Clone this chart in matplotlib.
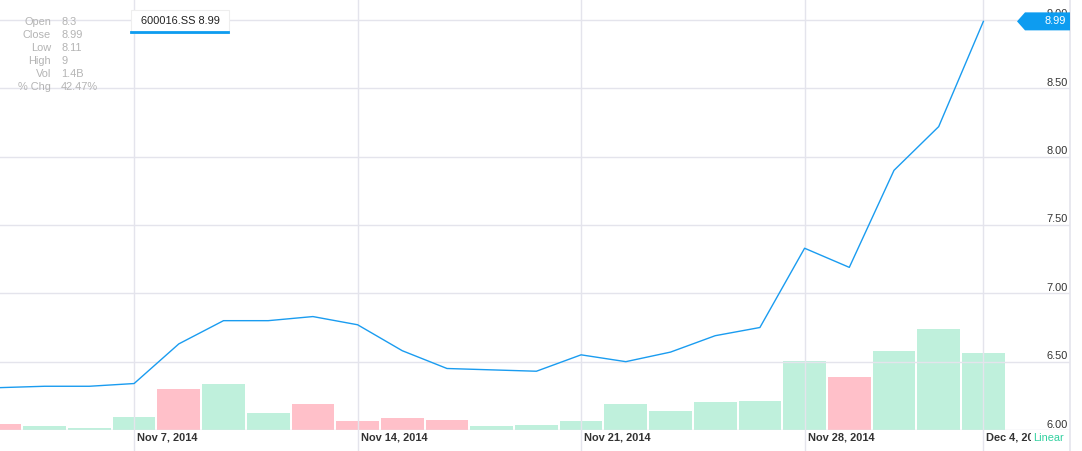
import matplotlib
matplotlib.use("Agg")
import matplotlib.pyplot as plt
from matplotlib.patches import Polygon, Rectangle
from matplotlib.lines import Line2D
import matplotlib.transforms as mtrans

plt.rcParams['font.family'] = ['Liberation Sans', 'DejaVu Sans']

# ---- data ----
dates = ["Nov 4", "Nov 5", "Nov 6", "Nov 7", "Nov 10", "Nov 11", "Nov 12", "Nov 13",
         "Nov 14", "Nov 17", "Nov 18", "Nov 19", "Nov 20", "Nov 21", "Nov 24", "Nov 25",
         "Nov 26", "Nov 27", "Nov 28", "Dec 1", "Dec 2", "Dec 3", "Dec 4"]
close = [6.31, 6.32, 6.32, 6.34, 6.63, 6.80, 6.80, 6.83, 6.77, 6.58, 6.45, 6.44,
         6.43, 6.55, 6.50, 6.57, 6.69, 6.75, 7.33, 7.19, 7.90, 8.22, 8.99]
volume_m = [109, 73, 36, 236, 745, 836, 309, 473, 164, 218, 182, 73, 91, 164, 473,
            345, 509, 527, 1255, 964, 1436, 1836, 1400]
up = [False, True, True, True, False, True, True, False, False, False, False, True,
      True, True, True, True, True, True, True, False, True, True, True]
tick_idx = [3, 8, 13, 18, 22]
tick_labels = ["Nov 7, 2014", "Nov 14, 2014", "Nov 21, 2014", "Nov 28, 2014", "Dec 4, 2014"]
yticks = [6.00, 6.50, 7.00, 7.50, 8.00, 8.50, 9.00]
info_keys = ["Open", "Close", "Low", "High", "Vol", "% Chg"]
info_vals = ["8.3", "8.99", "8.11", "9", "1.4B", "42.47%"]
symbol = "600016.SS"

W, H = 1082, 451
fig = plt.figure(figsize=(W / 100, H / 100), dpi=100)
# axes: x 0..1070 px, y 0..430 px from top
ax = fig.add_axes([0, 21 / H, 1070 / W, 430 / H])
axv = ax.twinx()
ax.set_zorder(2)
axv.set_zorder(1)
ax.patch.set_visible(False)

GRID = "#e4e4ec"
LINE = "#1a9cf0"
GREEN = "#bff0dc"
PINK = "#ffc0c9"

xs = list(range(len(dates)))
ax.set_xlim(0, 1070 / 44.7)
ax.set_ylim(6.0, 9.0 + 20 / 136.67)
axv.set_ylim(0, 1400 * 430 / 77)

axv.bar(xs, volume_m, width=0.955, color=[GREEN if u else PINK for u in up],
        linewidth=0)

ax.plot(xs, close, color=LINE, lw=1.0, zorder=5)

for a in (ax, axv):
    for s in a.spines.values():
        s.set_visible(False)
    a.set_xticks([])
    a.set_yticks([])

# horizontal gridlines & labels
for yv in yticks:
    ax.axhline(yv, color=GRID, lw=1, zorder=1)
    ax.text(1068 / 1070, yv + 2.5 / 136.67, f"{yv:.2f}",
            transform=ax.get_yaxis_transform(), ha="right", va="baseline",
            fontsize=7.9, color="#333333", zorder=3)

# vertical gridlines (full height)
for i, lab in zip(tick_idx, tick_labels):
    ax.axvline(i, ymin=-21 / 430, ymax=1, color=GRID, lw=1, clip_on=False, zorder=1)
    ax.text(i + 3 / 44.7, -7 / 430, lab, transform=ax.get_xaxis_transform(),
            ha="left", va="center", fontsize=7.9, fontweight="bold", color="#333333",
            clip_on=False)
# right border
ax.axvline(1070 / 44.7 - 0.01, ymin=-21 / 430, ymax=1, color=GRID, lw=1.2, clip_on=False)

# "Linear" label with white background covering clipped date
fig.patches.append(Rectangle((1031 / W, 0), 38 / W, 20 / H, transform=fig.transFigure,
                             facecolor="white", edgecolor="none", zorder=10))
fig.text(1033 / W, 1 - 438 / H, "Linear", ha="left", va="center", fontsize=7.9,
         color="#33d1a0", zorder=11)

# price badge
yb = close[-1]
h = 9 / 136.67
tr = ax.get_yaxis_transform()
badge = Polygon([(1017 / 1070, yb), (1025 / 1070, yb + h), (1.0, yb + h),
                 (1.0, yb - h), (1025 / 1070, yb - h)], closed=True,
                transform=tr, facecolor="#0d9cf0", edgecolor="none", zorder=8,
                clip_on=False)
ax.add_patch(badge)
ax.text(1066 / 1070, yb, f"{close[-1]:.2f}", transform=tr, ha="right", va="center",
        fontsize=7.9, color="white", zorder=9)

# info panel
rows_y = [22, 35, 48, 61, 74, 87]
for k, v, yy in zip(info_keys, info_vals, rows_y):
    fig.text(51 / W, 1 - yy / H, k, ha="right", va="center", fontsize=7.9, color="#b4b4b4")
    fig.text(61 / W, 1 - yy / H, v, ha="left", va="center", fontsize=7.9, color="#b4b4b4")

# legend box
fig.patches.append(Rectangle((131 / W, 1 - 33 / H), 98 / W, 23 / H, transform=fig.transFigure,
                             facecolor="white", edgecolor="#eeeeee", lw=0.8, zorder=10))
fig.lines.append(Line2D([131 / W, 228 / W], [1 - 32 / H, 1 - 32 / H], transform=fig.transFigure,
                        color="#0d9cf0", lw=2, zorder=11))
fig.text(180 / W, 1 - 21 / H, f"{symbol} {close[-1]:.2f}", ha="center", va="center",
         fontsize=7.9, color="#222222", zorder=12)

fig.savefig("out.png", dpi=100)
